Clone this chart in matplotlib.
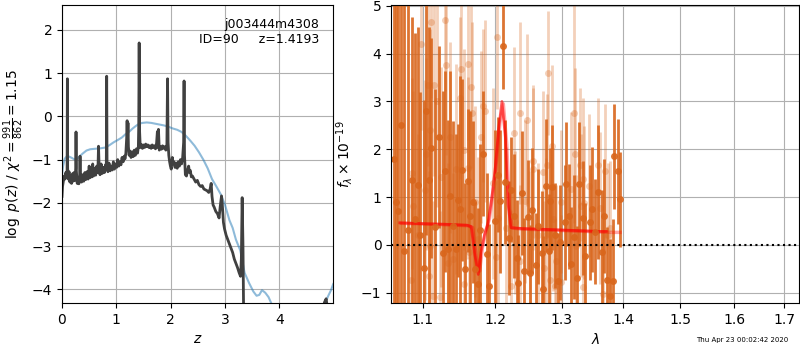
import numpy as np
import matplotlib
matplotlib.use('Agg')
import matplotlib.pyplot as plt

# redshift fit: log p(z) and the smooth template chi2 curve
z_grid = [0.000, 0.010, 0.025, 0.040, 0.055, 0.070, 0.085, 0.094, 0.099, 0.104,
          0.115, 0.130, 0.145, 0.160, 0.175, 0.190, 0.205, 0.220, 0.240, 0.253,
          0.258, 0.264, 0.280, 0.295, 0.310, 0.325, 0.332, 0.340, 0.360, 0.380,
          0.400, 0.420, 0.440, 0.460, 0.480, 0.500, 0.515, 0.530, 0.550, 0.565,
          0.580, 0.600, 0.620, 0.640, 0.660, 0.672, 0.685, 0.700, 0.720, 0.740,
          0.760, 0.780, 0.800, 0.815, 0.822, 0.829, 0.845, 0.865, 0.885, 0.905,
          0.925, 0.945, 0.965, 0.985, 1.005, 1.025, 1.045, 1.065, 1.085, 1.105,
          1.125, 1.145, 1.160, 1.175, 1.190, 1.198, 1.206, 1.214, 1.222, 1.235,
          1.250, 1.270, 1.290, 1.310, 1.330, 1.350, 1.370, 1.390, 1.405, 1.412,
          1.420, 1.428, 1.440, 1.460, 1.480, 1.500, 1.520, 1.540, 1.560, 1.580,
          1.600, 1.620, 1.640, 1.660, 1.680, 1.700, 1.720, 1.740, 1.755, 1.765,
          1.775, 1.790, 1.810, 1.830, 1.850, 1.870, 1.890, 1.910, 1.930, 1.942,
          1.952, 1.965, 1.980, 1.995, 2.010, 2.030, 2.045, 2.060, 2.080, 2.100,
          2.120, 2.140, 2.160, 2.180, 2.200, 2.220, 2.238, 2.246, 2.254, 2.270,
          2.290, 2.310, 2.330, 2.345, 2.360, 2.380, 2.400, 2.430, 2.460, 2.490,
          2.520, 2.550, 2.580, 2.610, 2.640, 2.670, 2.700, 2.725, 2.745, 2.760,
          2.780, 2.800, 2.830, 2.860, 2.890, 2.910, 2.935, 2.950, 2.970, 2.990,
          3.020, 3.050, 3.080, 3.110, 3.140, 3.170, 3.200, 3.230, 3.260, 3.285,
          3.300, 3.315, 3.330, 3.345, 3.400, 3.600, 3.900, 4.200, 4.500, 4.700,
          4.800, 4.830, 4.860, 4.890, 4.990]
log_pz = [-1.85, -1.62, -1.50, -1.38, -1.45, -1.30, -1.42, -1.25, 0.87, -1.20,
          -1.45, -1.28, -1.52, -1.38, -1.55, -1.33, -1.50, -1.30, -1.48, -1.20,
          -0.36, -1.25, -1.55, -1.42, -1.56, -1.35, -0.92, -1.40, -1.52, -1.35,
          -1.50, -1.30, -1.46, -1.28, -1.45, -1.15, -1.42, -1.25, -1.40, -1.10,
          -1.38, -1.20, -1.36, -1.15, -1.30, -0.69, -1.25, -1.35, -1.10, -1.32,
          -1.18, -1.30, -1.12, -1.20, 0.93, -1.15, -1.28, -1.08, -1.26, -1.15,
          -1.24, -1.05, -1.22, -1.10, -1.18, -1.00, -1.15, -1.05, -1.12, -0.95,
          -1.05, -0.92, -0.98, -0.85, -0.50, -0.10, -0.55, -0.15, -0.70, -0.90,
          -0.80, -0.95, -0.82, -0.93, -0.78, -0.90, -0.75, -0.85, -0.70, -0.20,
          1.70, -0.35, -0.72, -0.65, -0.74, -0.66, -0.72, -0.64, -0.70, -0.66,
          -0.72, -0.68, -0.74, -0.66, -0.72, -0.68, -0.75, -0.62, -0.35, -0.72,
          -0.30, -0.78, -0.70, -0.76, -0.68, -0.74, -0.70, -0.78, -0.65, 0.87,
          -0.60, -0.90, -1.05, -1.15, -1.22, -0.95, -1.10, -1.05, -1.18, -1.08,
          -1.20, -1.05, -1.15, -1.00, -1.10, -0.95, -0.60, 0.82, -0.90, -1.35,
          -1.38, -1.25, -1.15, -1.30, -1.25, -1.40, -1.38, -1.45, -1.52, -1.48,
          -1.58, -1.62, -1.60, -1.68, -1.70, -1.72, -1.76, -1.68, -1.55, -1.85,
          -2.05, -2.10, -2.20, -2.25, -2.35, -2.10, -1.84, -2.05, -2.45, -2.60,
          -2.75, -2.85, -2.95, -3.05, -3.15, -3.30, -3.40, -3.50, -3.62, -3.70,
          -3.30, -1.88, -3.00, -5.00, -5.80, -6.50, -6.80, -6.40, -5.60, -4.90,
          -4.45, -4.30, -4.22, -4.50, -5.00]

z_chi = [0.00, 0.02, 0.05, 0.09, 0.13, 0.18, 0.22, 0.27, 0.32, 0.38,
         0.45, 0.52, 0.60, 0.70, 0.80, 0.88, 0.95, 1.02, 1.10, 1.17,
         1.24, 1.30, 1.36, 1.42, 1.48, 1.56, 1.64, 1.72, 1.80, 1.88,
         1.96, 2.04, 2.12, 2.20, 2.28, 2.36, 2.44, 2.52, 2.60, 2.68,
         2.76, 2.84, 2.92, 3.00, 3.08, 3.14, 3.20, 3.28, 3.36, 3.44,
         3.52, 3.58, 3.63, 3.68, 3.74, 3.80, 3.86, 3.95, 4.10, 4.30,
         4.50, 4.65, 4.76, 4.84, 4.90, 4.95, 4.99]
log_chi = [-1.35, -1.15, -0.98, -0.92, -0.93, -0.96, -0.99, -0.99, -0.93, -0.86,
           -0.79, -0.76, -0.75, -0.74, -0.72, -0.66, -0.60, -0.55, -0.49, -0.41,
           -0.35, -0.28, -0.22, -0.17, -0.15, -0.14, -0.15, -0.17, -0.19, -0.21,
           -0.24, -0.28, -0.31, -0.36, -0.45, -0.56, -0.68, -0.83, -1.00, -1.20,
           -1.45, -1.62, -1.80, -2.05, -2.40, -2.58, -2.85, -3.10, -3.62, -3.85,
           -4.05, -4.15, -4.13, -4.02, -4.08, -4.18, -4.35, -4.70, -5.20, -5.60,
           -5.40, -5.00, -4.60, -4.32, -4.15, -4.02, -3.88]

# 1D spectrum, first orient (solid points)
lam_a = [1.062, 1.065, 1.068, 1.072, 1.076, 1.080, 1.086, 1.090, 1.094, 1.097,
         1.101, 1.104, 1.108, 1.111, 1.116, 1.122, 1.127, 1.130, 1.134, 1.137,
         1.141, 1.145, 1.148, 1.150, 1.153, 1.157, 1.161, 1.165, 1.168, 1.171,
         1.175, 1.179, 1.183, 1.188, 1.192, 1.200, 1.205, 1.207, 1.211, 1.215,
         1.220, 1.223, 1.228, 1.232, 1.234, 1.239, 1.243, 1.248, 1.252, 1.255,
         1.260, 1.264, 1.270, 1.272, 1.276, 1.280, 1.282, 1.285, 1.290, 1.294,
         1.298, 1.305, 1.307, 1.311, 1.315, 1.319, 1.324, 1.328, 1.334, 1.338,
         1.345, 1.349, 1.354, 1.359, 1.365, 1.369, 1.373, 1.378, 1.383, 1.385,
         1.391, 1.395]
flux_a = [1.80, 0.90, 0.70, 2.50, -0.12, 0.30, 1.36, 0.53, 1.26, 0.20,
          -0.48, 2.81, 1.36, 2.02, 0.37, 2.25, -0.18, 1.54, -0.09, 1.03,
          0.40, -0.09, 0.93, 0.74, 1.57, -0.50, 1.34, 0.60, 0.90, -0.50,
          -0.82, 0.30, 1.91, -0.20, -0.87, 0.50, 1.47, 0.91, 4.17, 1.31,
          0.14, 1.15, 0.60, -0.27, -0.80, 1.08, -0.54, 0.58, -0.59, 0.72,
          -0.43, 0.39, -0.17, -0.92, 1.24, -0.14, 0.92, 1.20, 0.20, -0.75,
          0.05, 0.47, 1.27, 0.60, -0.40, 0.17, -0.70, 1.27, 0.56, -0.23,
          0.47, 0.74, 0.27, 1.11, -0.15, 0.60, -0.73, -1.08, -0.76, 1.85,
          1.54, 0.95]
err_a = [4.5, 5.0, 4.6, 4.0, 5.2, 4.8, 3.4, 3.9, 3.3, 3.0,
         3.5, 2.6, 3.2, 2.3, 2.9, 1.9, 3.4, 2.1, 2.7, 2.6,
         2.2, 2.4, 1.6, 2.8, 1.9, 1.8, 1.5, 2.2, 1.7, 1.4,
         1.6, 1.8, 1.3, 1.7, 1.3, 1.9, 1.2, 1.5, 0.9, 1.3,
         1.2, 1.1, 1.3, 1.2, 1.0, 1.3, 1.1, 1.2, 1.0, 1.3,
         1.1, 1.2, 1.3, 1.1, 1.4, 1.2, 1.1, 1.3, 1.1, 1.0,
         1.2, 1.2, 1.3, 1.1, 1.2, 1.3, 1.1, 1.3, 1.2, 1.1,
         1.2, 1.3, 1.1, 1.4, 1.3, 1.2, 1.1, 1.2, 1.3, 1.1,
         1.1, 1.0]

# second orient (faint points)
lam_b = [1.0849, 1.0856, 1.0876, 1.0938, 1.0981, 1.1026, 1.1048, 1.1070, 1.1080, 1.1097,
         1.1101, 1.1111, 1.1137, 1.1155, 1.1185, 1.1230, 1.1251, 1.1300, 1.1308, 1.1342,
         1.1366, 1.1410, 1.1451, 1.1506, 1.1518, 1.1555, 1.1566, 1.1612, 1.1616, 1.1624,
         1.1657, 1.1666, 1.1716, 1.1754, 1.1801, 1.1833, 1.1856, 1.1977, 1.2010, 1.2023,
         1.2049, 1.2165, 1.2234, 1.2279, 1.2290, 1.2360, 1.2368, 1.2436, 1.2477, 1.2518,
         1.2558, 1.2567, 1.2634, 1.2712, 1.2730, 1.2761, 1.2781, 1.2796, 1.2822, 1.2849,
         1.2873, 1.2899, 1.2915, 1.2985, 1.2993, 1.3148, 1.3200, 1.3210, 1.3233, 1.3293,
         1.3301, 1.3334, 1.3342, 1.3361, 1.3445, 1.3591, 1.3621, 1.3665, 1.3691, 1.3747,
         1.3784]
flux_b = [-0.73, 1.50, 0.81, 0.21, 4.20, 1.15, 1.90, 3.35, -0.66, 2.41,
          -0.03, 4.67, -1.08, 3.35, 3.00, -1.10, 1.42, 4.71, 3.77, -0.38,
          2.25, -0.30, 1.59, 3.07, 3.68, -0.81, 1.99, 1.61, 3.79, -0.15,
          3.30, 2.76, 0.90, 0.13, 2.25, 2.91, 2.80, 1.29, -0.25, 4.34,
          0.56, 0.35, -0.87, 2.34, 0.47, 2.76, -0.34, 0.91, 2.62, 0.05,
          1.59, 1.75, 0.21, 1.52, -0.48, 0.21, 1.66, 3.59, -0.73, 2.06,
          0.53, -0.87, -0.34, 0.90, -0.78, 1.17, 2.76, 1.89, -0.03, 1.68,
          0.82, 1.38, -0.88, 0.88, 1.24, 1.68, 0.77, -1.04, 1.54, 0.21,
          0.35]
err_b = [2.2, 2.0, 2.4, 2.1, 1.8, 2.3, 2.0, 1.7, 2.2, 2.1,
         2.4, 1.6, 2.0, 1.9, 2.2, 1.8, 2.3, 1.5, 1.9, 2.1,
         2.0, 1.8, 2.2, 1.7, 1.9, 1.6, 2.1, 1.9, 1.6, 1.8,
         1.7, 1.9, 2.0, 1.7, 1.8, 1.6, 1.9, 2.0, 1.6, 1.5,
         1.8, 1.7, 1.6, 1.8, 1.5, 1.9, 1.6, 1.7, 1.8, 1.5,
         1.7, 1.6, 1.5, 1.7, 1.4, 1.6, 1.5, 1.3, 1.6, 1.7,
         1.5, 1.4, 1.6, 1.5, 1.4, 1.6, 2.3, 1.8, 1.5, 1.6,
         1.5, 1.7, 1.4, 1.6, 1.5, 1.4, 1.6, 1.3, 1.4, 1.5,
         1.4]

# best-fit model traces for each orient
lam_mod_a = [1.070, 1.100, 1.130, 1.160, 1.166, 1.171, 1.176, 1.180, 1.185, 1.190,
             1.195, 1.200, 1.205, 1.210, 1.215, 1.219, 1.223, 1.240, 1.260, 1.280,
             1.300, 1.320, 1.340, 1.360, 1.372]
flux_mod_a = [0.46, 0.44, 0.43, 0.41, 0.38, -0.20, -0.62, -0.15, 0.22, 0.45,
              0.95, 1.55, 2.40, 3.00, 2.25, 0.85, 0.36, 0.34, 0.33, 0.32,
              0.31, 0.30, 0.29, 0.28, 0.28]
lam_mod_b = [1.072, 1.100, 1.130, 1.162, 1.168, 1.173, 1.178, 1.182, 1.187, 1.192,
             1.197, 1.202, 1.207, 1.212, 1.217, 1.221, 1.225, 1.240, 1.260, 1.280,
             1.300, 1.320, 1.340, 1.360, 1.380, 1.395]
flux_mod_b = [0.45, 0.44, 0.42, 0.40, 0.36, -0.25, -0.55, -0.05, 0.30, 0.55,
              1.10, 1.75, 2.55, 2.95, 2.10, 0.75, 0.35, 0.33, 0.32, 0.31,
              0.30, 0.29, 0.28, 0.27, 0.26, 0.26]

# labels
obj_label = 'j003444m4308\nID=90     z=1.4193'
stamp = 'Thu Apr 23 00:02:42 2020'

#%%
fig = plt.figure(figsize=(8, 3.5), dpi=100)
ax_pz = fig.add_axes([0.0775, 0.134, 0.339, 0.852])
ax_sp = fig.add_axes([0.489, 0.134, 0.510, 0.852])

ax_pz.plot(z_chi, log_chi, color='tab:blue', alpha=0.5, lw=1.5)
ax_pz.plot(z_grid, log_pz, color='0.25', lw=2)
ax_pz.set_xlim(0, 4.99)
ax_pz.set_ylim(-4.32, 2.58)
ax_pz.set_xticks([0, 1, 2, 3, 4])
ax_pz.set_yticks([-4, -3, -2, -1, 0, 1, 2])
ax_pz.grid()
ax_pz.set_xlabel('$z$')
ax_pz.set_ylabel(r'$\log\ p(z)$ / $\chi^2=\frac{991}{862}=1.15$')
ax_pz.text(0.95, 0.955, obj_label, transform=ax_pz.transAxes,
           ha='right', va='top', fontsize=9)

#%%
orange = '#d9661c'
ax_sp.errorbar(lam_b, flux_b, err_b, fmt='o', color=orange, alpha=0.3,
               ms=5, elinewidth=2, mew=0)
ax_sp.errorbar(lam_a, flux_a, err_a, fmt='o', color=orange, alpha=0.9,
               ms=5, elinewidth=2, mew=0)
ax_sp.plot(lam_mod_b, flux_mod_b, color='r', alpha=0.35, lw=2.5)
ax_sp.plot(lam_mod_a, flux_mod_a, color='r', alpha=0.6, lw=2)
ax_sp.axhline(0, color='k', ls=':', lw=1.5)

ax_sp.set_xscale('log')
ax_sp.set_xlim(1.059, 1.7306)
ax_sp.set_ylim(-1.22, 5.02)
ticks = [1.1, 1.2, 1.3, 1.4, 1.5, 1.6, 1.7]
ax_sp.set_xticks(ticks)
ax_sp.set_xticklabels(['%.1f' % t for t in ticks])
ax_sp.xaxis.set_minor_locator(matplotlib.ticker.NullLocator())
ax_sp.set_yticks([-1, 0, 1, 2, 3, 4, 5])
ax_sp.grid()
ax_sp.set_xlabel(r'$\lambda$')
ax_sp.set_ylabel(r'$f_\lambda\times 10^{-19}$')

fig.text(0.985, 0.028, stamp, ha='right', va='center', fontsize=5)

plt.savefig('out.png', dpi=100)
